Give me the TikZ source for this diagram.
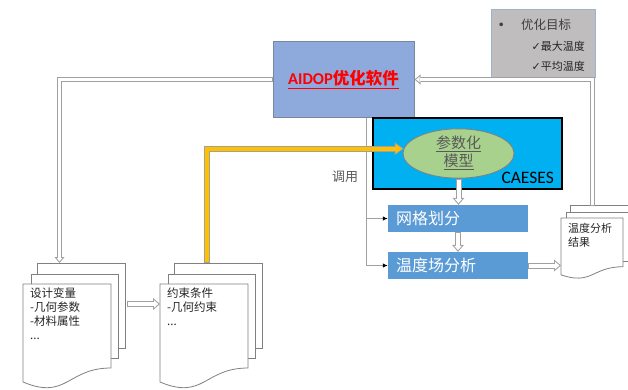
\documentclass[tikz,border=0pt]{standalone}
\usepackage{fontspec}
\setmainfont{Noto Sans CJK SC}
\newfontfamily\latinfont{Carlito}
\newfontfamily\symfont{DejaVu Sans}
\usetikzlibrary{arrows.meta,positioning,shapes.geometric,calc}
\definecolor{aidopblue}{HTML}{8EA9DB}
\definecolor{aidopedge}{HTML}{7A869E}
\definecolor{goalgray}{HTML}{BFBDBD}
\definecolor{goaledge}{HTML}{9DB3CF}
\definecolor{caesescyan}{HTML}{00B0F0}
\definecolor{modelgreen}{HTML}{A9D18E}
\definecolor{stepblue}{HTML}{5B9BD5}
\definecolor{linegray}{HTML}{A0A0A0}
\definecolor{pagegray}{HTML}{808080}
\definecolor{orangeline}{HTML}{FFC000}
\definecolor{txtgray}{HTML}{595959}

\begin{document}
\begin{tikzpicture}[
          x=1pt, y=-1pt,
          aidopbox/.style = {draw=aidopedge, line width=1pt, fill=aidopblue, minimum width=141pt,
                             minimum height=76pt, inner sep=0pt, text=red,
                             font=\fontsize{16.5}{20}\selectfont\bfseries},
          goalbox/.style = {draw=goaledge, line width=0.8pt, fill=goalgray,
                            minimum width=104pt, minimum height=68pt},
          goaltxt/.style = {inner sep=0pt, text=black!85, font=\fontsize{11}{13}\selectfont},
          caesesbox/.style = {draw=black, line width=1.8pt, fill=caesescyan,
                              minimum width=189pt, minimum height=71pt},
          model/.style = {ellipse, draw=pagegray, line width=0.8pt, fill=modelgreen,
                          minimum width=111pt, minimum height=41pt, inner sep=0pt,
                          align=center, text=txtgray, font=\fontsize{15}{16}\selectfont},
          stepbox/.style = {fill=stepblue, text=white, text width=124pt, inner xsep=8pt,
                            minimum height=27pt, align=left, font=\fontsize{16}{18}\selectfont},
          doctxt/.style = {inner sep=0pt, align=left, text=black!85,
                           font=\fontsize{11.5}{14}\selectfont},
          calltxt/.style = {inner sep=0pt, text=txtgray, font=\fontsize{13}{15}\selectfont},
          page/.style = {draw=pagegray, line width=0.8pt, fill=white},
          callarr/.style = {draw=linegray, line width=1.3pt,
                            -{Latex[length=5pt,width=4.5pt,color=black]}},
          hollow/.style = {draw=linegray, line width=6pt,
                           -{Triangle[length=7pt,width=12pt,line width=0pt]},
                           postaction={draw=white, line width=4pt, shorten >=1.54pt, shorten <=1pt,
                                       -{Triangle[length=4.46pt,width=7.64pt,line width=0pt]}}},
          hollowthin/.style = {draw=linegray, line width=5pt,
                               -{Triangle[length=6pt,width=10pt,line width=0pt]},
                               postaction={draw=white, line width=3pt, shorten >=1.56pt, shorten <=1pt,
                                           -{Triangle[length=3.44pt,width=5.73pt,line width=0pt]}}},
          orangearr/.style = {draw=linegray, line width=6pt,
                              -{Triangle[length=9pt,width=13pt,line width=0pt]},
                              postaction={draw=orangeline, line width=4pt, shorten >=1.71pt, shorten <=1pt,
                                          -{Triangle[length=6.29pt,width=9.08pt,line width=0pt]}}},
          docstack/.pic = {
            \draw[page] (14,-21) rectangle (102,64);
            \draw[page] (8,-10) rectangle (95,74);
            \draw[page] (0,0) -- (88,0) -- (88,84) .. controls (44,84) and (44,116.5) .. (0,98) -- cycle;
            \coordinate (-nw) at (0,0);
            \coordinate (-ne) at (88,0);
          },
        ]
        \useasboundingbox (0,0) rectangle (628,389);
        \clip (0,0) rectangle (628,389);

        % software and goals
        \node[aidopbox] (aidop) at (343.5,79.5) {\underline{{\latinfont AIDOP}优化软件}};
        \node[goalbox] (goal) at (543,43) {};
        \node[goaltxt, text=black!75, font=\fontsize{12.5}{14}\selectfont, anchor=west] (goalhead)
             at (497.5,25) {{\symfont •}\hspace{16pt}优化目标};
        \node[goaltxt, anchor=east] (goalmax) at (585,46) {{\symfont ✓}最大温度};
        \node[goaltxt, anchor=east] (goalavg) at (585,66) {{\symfont ✓}平均温度};

        % CAESES block
        \node[caesesbox] (caeses) at (467.5,153.5) {};
        \node[inner sep=0pt, anchor=east, font=\latinfont\fontsize{17.5}{20}\selectfont] (caeseslbl)
             at (554,178) {CAESES};
        \node[model] (model) at (458.5,153.5)
             {\raisebox{4pt}{\begin{tabular}{@{}c@{}}\underline{参数化}\\\underline{模型}\end{tabular}}};
        \node[stepbox] (mesh) at (458,218.5) {网格划分};
        \node[stepbox] (thermal) at (458,265.5) {温度场分析};

        % document stacks
        \pic (design) at (23,284) {docstack};
        \pic (cons) at (160,284) {docstack};
        \pic[xscale=0.705, yscale=0.58] (result) at (561,218) {docstack};
        \node[doctxt, anchor=north west] (designtxt) at ($(design-nw)+(7,4)$)
             {设计变量\\-几何参数\\-材料属性\\...};
        \node[doctxt, anchor=north west] (constxt) at ($(cons-nw)+(7,4)$)
             {约束条件\\-几何约束\\...};
        \node[doctxt, font=\fontsize{11}{14}\selectfont, anchor=north west] (resulttxt)
             at ($(result-nw)+(7,4.5)$) {温度分析\\结果};

        % calls
        \coordinate (callstart) at ($(aidop.south west)+(94,0)$);
        \draw[callarr] (callstart) |- (thermal.west);
        \draw[callarr] (callstart |- mesh.west) -- (mesh.west);
        \node[calltxt] (calllbl) at (345,177) {调用};

        % flows
        \draw[hollow] (model.south) -- (model.south |- mesh.north);
        \draw[hollow] (mesh.south) -- (thermal.north);
        \draw[hollow] (thermal.east) -- (thermal.east -| result-nw);
        \coordinate (dvout) at ($(design-ne)+(16,20)$);
        \draw[hollow] (dvout) -- (dvout -| cons-nw);
        \coordinate (designin) at ($(design-nw)+(36.5,-21)$);
        \draw[hollowthin] (aidop.west) -| (designin);
        \coordinate (resultin) at ($(result-nw)+(31,-12)$);
        \draw[hollowthin] (resultin) |- (aidop.east);
        \coordinate (consin) at ($(cons-nw)+(47,-21)$);
        \draw[orangearr] (consin) |- (model.175);
      \end{tikzpicture}
\end{document}
